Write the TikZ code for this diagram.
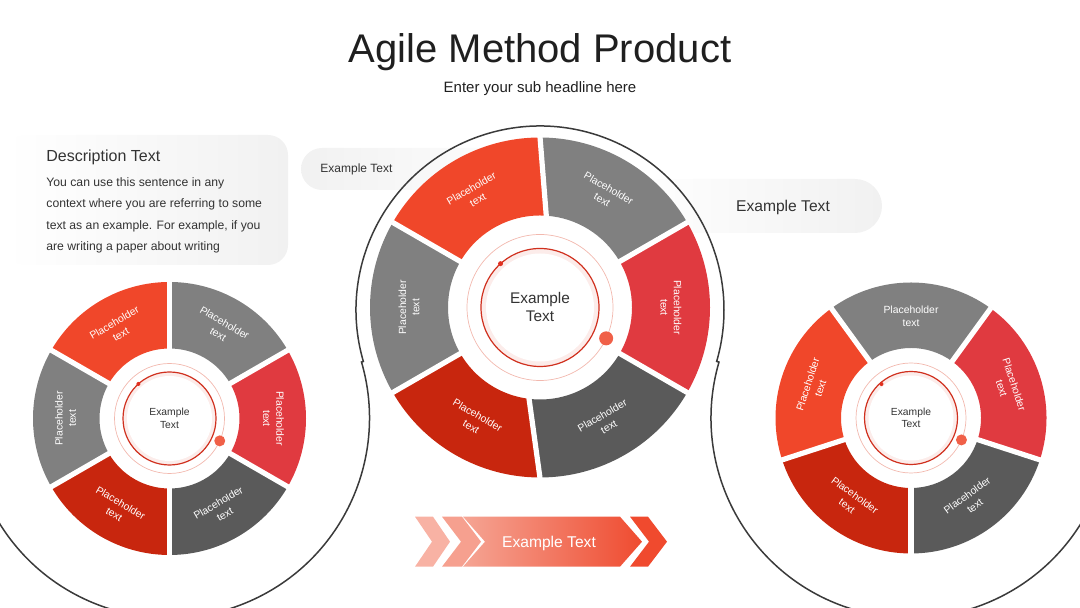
\documentclass[tikz,border=0pt]{standalone}
\usepackage{fontspec}
\setmainfont{Liberation Sans}
\usetikzlibrary{calc}

\definecolor{segorange}{HTML}{F0472A}
\definecolor{seggray}{HTML}{808080}
\definecolor{segred}{HTML}{E03A40}
\definecolor{segdark}{HTML}{5A5A5A}
\definecolor{segdeep}{HTML}{C8260E}
\definecolor{inkgray}{HTML}{333333}
\definecolor{titlegray}{HTML}{1F1F1F}
\definecolor{boxgray}{HTML}{F1F1F1}
\definecolor{outlinegray}{HTML}{3A3A3A}
\definecolor{ringlight}{HTML}{F2B8AE}
\definecolor{ringred}{HTML}{D0301E}
\definecolor{ringpink}{HTML}{FCECEA}
\definecolor{dotsmall}{HTML}{E03020}
\definecolor{dotbig}{HTML}{F06048}
\definecolor{chevA}{HTML}{F8B2A4}
\definecolor{chevB}{HTML}{F6A08F}
\definecolor{arrowleft}{HTML}{F5A594}
\definecolor{arrowright}{HTML}{EF4B30}
\definecolor{chevD}{HTML}{F04A2E}

\begin{document}
\begin{tikzpicture}[x=0.5pt,y=0.5pt,
  segtext/.style={text=white,align=center,inner sep=0pt,font=\fontsize{5.2}{6.6}\selectfont},
  hubtext/.style={text=inkgray,align=center,inner sep=0pt},
  plain/.style={text=inkgray,inner sep=0pt},
  gapline/.style={white,line width=2.6pt},
  ringthin/.style={draw=ringlight,line width=0.35pt},
  ringdark/.style={draw=ringred,line width=0.6pt},
  outline/.style={draw=outlinegray,line width=0.75pt}]

\useasboundingbox (0,0) rectangle (1080,608);
\clip (0,0) rectangle (1080,608);

% description box and the two tags
\shade[left color=white,middle color=boxgray,right color=boxgray,rounded corners=10pt] (5,343) rectangle (288,473);
\shade[left color=boxgray,right color=white,rounded corners=10.5pt] (301,418) rectangle (540,460);
\shade[left color=white,right color=boxgray,rounded corners=13.5pt] (630,375) rectangle (882,429);

% outline round the three wheels
\coordinate (lo) at (169.5,190);
\coordinate (co) at (540,298);
\coordinate (ro) at (911,190);
\draw[outline] ([shift={(205:200)}]lo) arc[start angle=205,end angle=376.25,radius=200]
  -- ([shift={(196.25:184)}]co) arc[start angle=196.25,end angle=-16.23,radius=184]
  -- ([shift={(163.77:200)}]ro) arc[start angle=163.77,end angle=335,radius=200];

% centre wheel
\begin{scope}[shift={(540,300.5)}]
  \foreach \a/\ai/\b/\bi/\col/\m/\rot [count=\i] in
    {90/86/150/150/segorange/120/30, 30/30/90/86/seggray/60/-30, -30/-30/30/30/segred/0/-90,
     -90/-97/-30/-30/segdark/-60/30, -150/-150/-90/-97/segdeep/-120/-30, 150/150/210/210/seggray/180/90}
  {
    \fill[\col] (\ai:92) -- (\a:170) arc[start angle=\a,end angle=\b,radius=170]
      -- (\bi:92) arc[start angle=\bi,end angle=\ai,radius=92] -- cycle;
    \node[segtext,rotate=\rot] (c\i) at (\m:131) {Placeholder\\text};
  }
  \foreach \g/\gi in {90/86,30/30,-30/-30,-90/-97,-150/-150,150/150}
    \draw[gapline] (\gi:91) -- (\g:170.5);
  \draw[ringthin] (0,0) circle[radius=73];
  \fill[ringpink] (0,0) circle[radius=59];
  \fill[white] (0,0) circle[radius=54];
  \draw[ringdark] (0,0) circle[radius=59];
  \fill[dotsmall] (132:59) circle[radius=2.5];
  \fill[dotbig] (-25:73) circle[radius=7];
  \node[hubtext,font=\fontsize{7.7}{9}\selectfont] (cmid) at (0,0) {Example\\Text};
\end{scope}

% left wheel
\begin{scope}[shift={(169.5,189.5)}]
  \foreach \a/\b/\col/\m/\rot [count=\i] in
    {90/150/segorange/120/30, 30/90/seggray/60/-30, -30/30/segred/0/-90,
     -90/-30/segdark/-60/30, -150/-90/segdeep/-120/-30, 150/210/seggray/180/90}
  {
    \fill[\col] (\a:70) -- (\a:136.5) arc[start angle=\a,end angle=\b,radius=136.5]
      -- (\b:70) arc[start angle=\b,end angle=\a,radius=70] -- cycle;
    \node[segtext,rotate=\rot] (l\i) at (\m:104) {Placeholder\\text};
  }
  \foreach \g in {90,30,-30,-90,-150,150}
    \draw[gapline] (\g:69) -- (\g:137);
  \draw[ringthin] (0,0) circle[radius=55];
  \fill[ringpink] (0,0) circle[radius=46.5];
  \fill[white] (0,0) circle[radius=42.5];
  \draw[ringdark] (0,0) circle[radius=46.5];
  \fill[dotsmall] (132:46.5) circle[radius=2];
  \fill[dotbig] (-24:55) circle[radius=5.5];
  \node[hubtext,font=\fontsize{5.15}{6.2}\selectfont] (lmid) at (0,0) {Example\\Text};
\end{scope}

% right wheel
\begin{scope}[shift={(911,190)}]
  \foreach \a/\b/\col/\m/\rot [count=\i] in
    {54/126/seggray/90/0, -18/54/segred/18/-72, -90/-18/segdark/-54/36,
     -162/-90/segdeep/-126/-36, 126/198/segorange/162/72}
  {
    \fill[\col] (\a:70) -- (\a:135.5) arc[start angle=\a,end angle=\b,radius=135.5]
      -- (\b:70) arc[start angle=\b,end angle=\a,radius=70] -- cycle;
    \node[segtext,rotate=\rot] (r\i) at (\m:102) {Placeholder\\text};
  }
  \foreach \g in {54,-18,-90,-162,126}
    \draw[gapline] (\g:69) -- (\g:136);
  \draw[ringthin] (0,0) circle[radius=55];
  \fill[ringpink] (0,0) circle[radius=46.5];
  \fill[white] (0,0) circle[radius=42.5];
  \draw[ringdark] (0,0) circle[radius=46.5];
  \fill[dotsmall] (131:45) circle[radius=2];
  \fill[dotbig] (-23.5:55) circle[radius=5.5];
  \node[hubtext,font=\fontsize{5.15}{6.2}\selectfont] (rmid) at (0,0) {Example\\Text};
\end{scope}

% bottom arrow
\foreach \x/\w/\d/\col in {415/18/17/chevA, 442/20/19/chevB, 630/18/19/chevD}
  \fill[\col] (\x,91.3) -- ++(\w,0) -- ++(\d,-25) -- ++(-\d,-25) -- ++(-\w,0) -- ++(\d,25) -- cycle;
\shade[left color=arrowleft,right color=arrowright]
  (463,91.3) -- (620,91.3) -- (642,66.3) -- (620,41.3) -- (463,41.3) -- (485,66.3) -- cycle;
\node[plain,text=white,font=\fontsize{7.8}{9}\selectfont,anchor=base] (arrowtext) at (549,60.5) {Example Text};

% texts
\node[plain,text=titlegray,font=\fontsize{20}{24}\selectfont,anchor=base] (title) at (540,545) {Agile Method Product};
\node[plain,text=titlegray,font=\fontsize{7.5}{9}\selectfont,anchor=base] (subtitle) at (540,515) {Enter your sub headline here};
\node[plain,font=\fontsize{8}{10}\selectfont,anchor=base west] (desctitle) at (46,446.5) {Description Text};
\foreach \t/\y [count=\i] in {You can use this sentence in any/421.5,
    context where you are referring to some/400,
    text as an example. For example{,} if you/378.5,
    are writing a paper about writing/357}
  \node[plain,font=\fontsize{6.1}{8}\selectfont,anchor=base west] (d\i) at (46,\y) {\t};
\node[plain,font=\fontsize{6}{8}\selectfont,anchor=base west] (lefttag) at (320,435.5) {Example Text};
\node[plain,font=\fontsize{7.8}{9}\selectfont,anchor=base] (righttag) at (783,396.5) {Example Text};
\end{tikzpicture}
\end{document}
